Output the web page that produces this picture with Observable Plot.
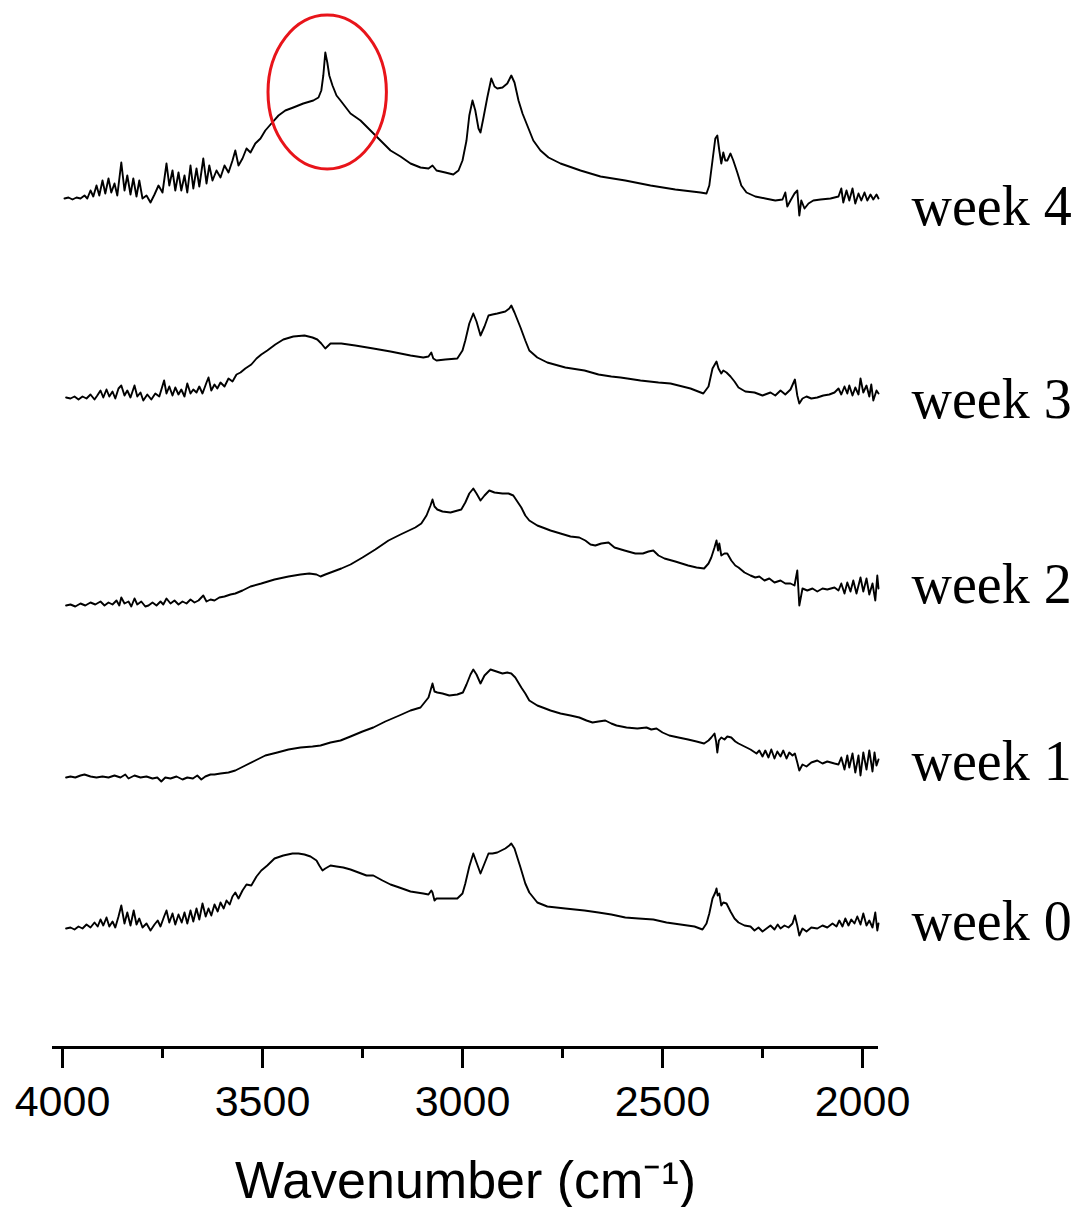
<!DOCTYPE html>
<html><head><meta charset="utf-8">
<script src="https://cdn.jsdelivr.net/npm/d3@7"></script>
<script src="https://cdn.jsdelivr.net/npm/@observablehq/plot@0.6"></script>
<style>html,body{margin:0;padding:0;background:#fff}</style>
</head><body><div id="chart"></div>
<script>
// ---- data (wavenumber cm-1, relative absorbance) ----
const weeks = ["week 0", "week 1", "week 2", "week 3", "week 4"];
const offsets = [1.19, 2.70, 4.42, 6.49, 8.49];   // vertical stacking offset of each spectrum
const labelY = [1.25, 2.85, 4.62, 6.47, 8.40];    // label positions (same units)
const majorTicks = [4000, 3500, 3000, 2500, 2000];
const minorTicks = [3750, 3250, 2750, 2250];
const highlight = [{wn: 3337, y: 9.55, rx: 148, ry: 0.77}]; // red ellipse around 3343 cm-1 band

const week0 = [[3991,.00],[3980,.01],[3970,-.01],[3960,.02],[3950,.00],[3940,.04],[3930,.01],[3920,.06],[3912,.02],[3905,.09],[3898,.03],[3890,.11],[3883,.02],[3875,.07],[3868,.01],[3860,.12],[3853,.23],[3845,.05],[3838,.16],[3830,.03],[3822,.18],[3815,.04],[3808,.10],[3800,.01],[3790,.05],[3780,-.02],[3770,.04],[3762,.08],[3755,.02],[3746,.12],[3740,.18],[3733,.06],[3725,.15],[3718,.04],[3710,.14],[3702,.06],[3695,.16],[3688,.05],[3680,.18],[3673,.07],[3665,.20],[3658,.09],[3650,.25],[3642,.12],[3635,.20],[3628,.13],[3620,.24],[3612,.17],[3605,.26],[3597,.20],[3590,.28],[3582,.24],[3575,.32],[3568,.36],[3560,.30],[3550,.38],[3540,.44],[3528,.43],[3515,.52],[3503,.58],[3488,.63],[3470,.70],[3448,.73],[3425,.75],[3410,.75],[3395,.74],[3380,.72],[3365,.68],[3358,.63],[3350,.58],[3343,.60],[3330,.63],[3315,.62],[3298,.61],[3280,.59],[3260,.56],[3240,.53],[3223,.53],[3200,.48],[3180,.44],[3158,.41],[3130,.37],[3098,.35],[3085,.34],[3078,.38],[3075,.36],[3070,.28],[3065,.30],[3043,.30],[3013,.30],[3000,.35],[2993,.45],[2983,.62],[2973,.75],[2965,.66],[2955,.55],[2945,.65],[2935,.75],[2925,.75],[2913,.76],[2893,.80],[2883,.83],[2878,.85],[2870,.80],[2855,.61],[2843,.45],[2833,.36],[2813,.26],[2788,.22],[2743,.20],[2695,.18],[2660,.16],[2628,.14],[2593,.11],[2560,.10],[2523,.09],[2490,.06],[2455,.04],[2420,.02],[2400,-.01],[2390,.05],[2383,.15],[2375,.30],[2368,.36],[2365,.40],[2362,.33],[2358,.35],[2353,.23],[2348,.26],[2340,.25],[2330,.17],[2320,.10],[2310,.06],[2295,.03],[2280,.02],[2270,-.02],[2260,.01],[2250,-.03],[2240,.00],[2230,.03],[2220,-.01],[2212,.04],[2205,.00],[2195,.03],[2185,.01],[2175,.05],[2169,.13],[2163,.03],[2158,-.07],[2150,.00],[2140,-.03],[2128,.01],[2113,.00],[2100,.03],[2088,.01],[2075,.05],[2065,.02],[2058,.08],[2050,.02],[2043,.10],[2035,.03],[2028,.09],[2020,.05],[2013,.12],[2005,.04],[1998,.15],[1990,.03],[1983,.08],[1975,.01],[1968,.16],[1963,-.02],[1960,.05]];

const week1 = [[3991,.00],[3980,.01],[3968,.00],[3955,.02],[3945,.03],[3930,.01],[3915,.00],[3900,.01],[3885,.00],[3870,.02],[3855,.00],[3843,.03],[3835,-.01],[3820,.02],[3805,.00],[3790,.01],[3775,-.01],[3763,.00],[3753,-.04],[3743,.00],[3730,-.01],[3715,.01],[3700,-.02],[3688,.00],[3674,-.01],[3663,.02],[3653,-.02],[3643,.01],[3630,.03],[3620,.03],[3605,.04],[3585,.05],[3568,.07],[3543,.12],[3518,.17],[3493,.22],[3463,.25],[3435,.28],[3405,.30],[3375,.31],[3355,.32],[3330,.35],[3305,.37],[3280,.41],[3250,.46],[3223,.50],[3193,.56],[3158,.62],[3130,.67],[3105,.70],[3095,.75],[3085,.80],[3080,.87],[3075,.94],[3070,.86],[3063,.85],[3050,.84],[3033,.82],[3013,.83],[2999,.85],[2990,.93],[2980,1.03],[2973,1.08],[2965,1.03],[2955,.94],[2945,1.02],[2930,1.08],[2915,1.06],[2900,1.04],[2888,1.05],[2878,1.04],[2868,1.00],[2853,.90],[2843,.84],[2833,.77],[2813,.72],[2793,.69],[2780,.67],[2755,.64],[2730,.62],[2708,.60],[2690,.57],[2675,.55],[2660,.56],[2643,.57],[2628,.54],[2615,.52],[2590,.50],[2563,.49],[2540,.50],[2528,.48],[2515,.49],[2500,.45],[2483,.42],[2460,.40],[2436,.38],[2415,.36],[2396,.34],[2385,.37],[2378,.40],[2370,.44],[2366,.36],[2363,.25],[2359,.37],[2353,.40],[2345,.38],[2338,.41],[2328,.40],[2318,.36],[2310,.34],[2295,.31],[2280,.28],[2265,.24],[2258,.27],[2250,.21],[2243,.27],[2235,.20],[2228,.28],[2220,.19],[2213,.26],[2205,.21],[2198,.27],[2190,.19],[2183,.25],[2175,.22],[2169,.24],[2163,.15],[2158,.07],[2150,.13],[2140,.11],[2128,.15],[2113,.17],[2100,.14],[2088,.16],[2070,.14],[2060,.13],[2053,.20],[2045,.08],[2038,.22],[2033,.10],[2025,.24],[2018,.05],[2010,.22],[2005,.02],[1998,.25],[1990,.08],[1983,.27],[1975,.06],[1970,.25],[1965,.12],[1960,.18]];

const week2 = [[3991,.00],[3980,.01],[3968,-.01],[3955,.02],[3943,.00],[3930,.03],[3918,.01],[3905,.04],[3895,.00],[3885,.03],[3875,.01],[3865,.05],[3858,.00],[3853,.08],[3845,.02],[3835,.04],[3828,-.01],[3820,.07],[3813,.01],[3803,.04],[3793,-.01],[3785,.00],[3775,.03],[3765,.00],[3755,.04],[3748,.01],[3740,.07],[3730,.02],[3720,.05],[3710,.01],[3700,.04],[3690,.02],[3680,.06],[3670,.03],[3660,.05],[3648,.10],[3640,.04],[3630,.06],[3620,.05],[3608,.08],[3595,.09],[3580,.11],[3568,.12],[3550,.15],[3530,.19],[3503,.22],[3470,.26],[3435,.29],[3405,.31],[3383,.32],[3365,.31],[3355,.29],[3343,.31],[3323,.34],[3303,.37],[3280,.41],[3250,.48],[3218,.56],[3185,.65],[3155,.71],[3118,.78],[3103,.82],[3090,.90],[3080,1.00],[3075,1.06],[3070,.99],[3063,.96],[3050,.94],[3030,.93],[3003,.96],[2993,1.03],[2983,1.12],[2973,1.17],[2965,1.12],[2955,1.05],[2945,1.10],[2933,1.15],[2920,1.13],[2900,1.12],[2885,1.12],[2873,1.10],[2863,1.04],[2853,.98],[2843,.90],[2833,.85],[2813,.80],[2793,.77],[2780,.75],[2755,.72],[2730,.69],[2708,.68],[2693,.65],[2680,.61],[2668,.60],[2653,.62],[2635,.63],[2620,.58],[2595,.55],[2568,.52],[2549,.52],[2535,.54],[2523,.55],[2510,.50],[2495,.47],[2468,.44],[2436,.40],[2415,.38],[2396,.37],[2385,.42],[2378,.48],[2370,.58],[2365,.65],[2361,.55],[2358,.62],[2353,.50],[2345,.52],[2338,.52],[2328,.45],[2318,.40],[2310,.38],[2295,.33],[2280,.30],[2268,.28],[2258,.29],[2245,.25],[2233,.27],[2220,.23],[2205,.25],[2193,.22],[2180,.22],[2170,.20],[2163,.35],[2158,.00],[2150,.17],[2138,.15],[2125,.17],[2113,.14],[2100,.17],[2088,.16],[2070,.18],[2060,.15],[2053,.22],[2045,.12],[2038,.23],[2030,.14],[2023,.25],[2015,.12],[2005,.28],[1998,.14],[1990,.27],[1983,.11],[1975,.22],[1968,.05],[1963,.30],[1960,.17]];

const week3 = [[3991,.01],[3980,.00],[3970,.02],[3960,-.01],[3950,.02],[3940,.00],[3930,.04],[3920,-.01],[3913,.03],[3905,.08],[3898,.01],[3890,.09],[3883,.02],[3875,.07],[3868,.00],[3860,.10],[3853,.13],[3845,.03],[3838,.08],[3830,.01],[3820,.13],[3813,.02],[3805,.06],[3798,-.02],[3788,.04],[3778,-.01],[3768,.05],[3758,.02],[3746,.18],[3740,.05],[3733,.12],[3725,.03],[3718,.11],[3710,.04],[3703,.09],[3695,.02],[3688,.15],[3680,.05],[3673,.09],[3665,.06],[3658,.12],[3650,.05],[3640,.16],[3635,.21],[3628,.08],[3620,.14],[3613,.10],[3605,.16],[3595,.12],[3585,.20],[3575,.17],[3565,.24],[3555,.26],[3543,.30],[3528,.34],[3515,.40],[3503,.44],[3488,.48],[3468,.54],[3448,.59],[3423,.62],[3395,.63],[3375,.61],[3363,.59],[3353,.55],[3343,.50],[3330,.55],[3303,.55],[3268,.53],[3223,.50],[3180,.47],[3130,.43],[3098,.41],[3085,.42],[3078,.46],[3073,.40],[3065,.38],[3043,.39],[3013,.40],[3000,.48],[2993,.58],[2983,.75],[2973,.85],[2965,.77],[2955,.63],[2945,.72],[2935,.83],[2925,.84],[2913,.85],[2893,.87],[2883,.90],[2878,.93],[2870,.86],[2855,.71],[2843,.58],[2833,.48],[2813,.41],[2788,.36],[2743,.31],[2695,.28],[2660,.24],[2628,.22],[2605,.21],[2588,.20],[2555,.18],[2510,.16],[2480,.15],[2430,.10],[2398,.05],[2385,.12],[2375,.30],[2365,.37],[2360,.30],[2353,.25],[2348,.28],[2340,.26],[2330,.22],[2320,.17],[2310,.11],[2293,.07],[2270,.06],[2250,.03],[2230,.06],[2218,.03],[2205,.08],[2193,.04],[2180,.09],[2169,.19],[2163,.03],[2158,-.05],[2150,.00],[2140,.02],[2128,.00],[2113,.01],[2098,.03],[2083,.04],[2070,.06],[2060,.10],[2053,.04],[2045,.12],[2038,.05],[2033,.13],[2025,.03],[2018,.11],[2010,.04],[2005,.20],[1998,.06],[1990,.13],[1983,.02],[1978,.14],[1973,-.02],[1965,.08],[1960,.05]];

const week4 = [[3995,0],[3985,.01],[3975,-.01],[3965,.01],[3955,0],[3945,.03],[3938,0],[3930,.08],[3923,.02],[3915,.13],[3908,.03],[3900,.18],[3893,.05],[3885,.20],[3878,.06],[3870,.15],[3863,.03],[3853,.36],[3845,.08],[3838,.23],[3830,.04],[3823,.20],[3815,.02],[3808,.18],[3800,0],[3790,.03],[3780,-.04],[3770,.04],[3760,.13],[3750,.06],[3740,.35],[3733,.13],[3725,.28],[3718,.08],[3710,.26],[3703,.08],[3695,.23],[3688,.06],[3680,.33],[3673,.10],[3665,.30],[3658,.12],[3648,.40],[3640,.15],[3633,.33],[3625,.18],[3615,.28],[3605,.21],[3595,.33],[3585,.26],[3575,.38],[3568,.48],[3560,.33],[3550,.40],[3540,.50],[3530,.46],[3518,.55],[3505,.60],[3493,.68],[3480,.74],[3460,.83],[3443,.88],[3423,.91],[3398,.95],[3373,.98],[3360,1.01],[3353,1.08],[3348,1.23],[3343,1.46],[3338,1.36],[3333,1.23],[3325,1.13],[3315,1.03],[3305,.98],[3280,.85],[3255,.78],[3230,.68],[3205,.58],[3180,.48],[3155,.42],[3130,.35],[3105,.31],[3085,.30],[3075,.33],[3065,.28],[3043,.26],[3023,.24],[3010,.28],[3000,.38],[2990,.58],[2983,.83],[2975,.98],[2968,.88],[2960,.70],[2955,.66],[2948,.80],[2938,1.01],[2928,1.20],[2920,1.12],[2913,1.10],[2900,1.11],[2888,1.15],[2878,1.23],[2870,1.16],[2860,.98],[2850,.85],[2838,.73],[2823,.58],[2805,.48],[2785,.41],[2755,.35],[2705,.28],[2655,.22],[2593,.18],[2530,.13],[2468,.09],[2405,.06],[2390,.05],[2383,.13],[2375,.38],[2368,.60],[2363,.63],[2358,.48],[2353,.35],[2348,.46],[2343,.38],[2338,.38],[2330,.45],[2323,.38],[2313,.26],[2303,.13],[2290,.06],[2268,.02],[2243,0],[2218,-.02],[2200,-.01],[2193,.06],[2188,-.08],[2180,-.02],[2170,.05],[2163,.08],[2158,-.17],[2153,-.02],[2145,-.10],[2135,-.05],[2123,-.02],[2105,-.01],[2080,0],[2060,.02],[2053,.10],[2048,-.04],[2040,.08],[2033,-.02],[2025,.10],[2018,-.05],[2010,.05],[2003,-.02],[1995,.06],[1988,-.02],[1980,.04],[1973,-.01],[1965,.04],[1960,0]];

const spectra = [week0, week1, week2, week3, week4];
const rows = spectra.flatMap((s, i) => s.map(([wn, a]) => ({week: weeks[i], wn, y: a + offsets[i]})));

const plot = Plot.plot({
  width: 1078, height: 1207,
  marginTop: 0, marginBottom: 160, marginLeft: 52, marginRight: 200,
  x: {domain: [4025, 1960], label: null},
  y: {domain: [0, 10.47], axis: null},
  style: {fontFamily: "'Liberation Sans', Arial, sans-serif", background: "white", color: "black", overflow: "visible"},
  marks: [
    Plot.line(rows, {x: "wn", y: "y", z: "week", stroke: "black", strokeWidth: 1.9, strokeLinejoin: "round"}),
    Plot.ruleY([0], {stroke: "black", strokeWidth: 3}),
    Plot.axisX(majorTicks, {anchor: "bottom", tickSize: 21, tickPadding: 17, strokeWidth: 3, fontSize: 43, tickFormat: d => String(d), label: null}),
    Plot.axisX(minorTicks, {anchor: "bottom", tickSize: 11, strokeWidth: 3, tickFormat: () => "", label: null}),
    Plot.text(["Wavenumber (cm⁻¹)"], {frameAnchor: "bottom", dy: 134, fontSize: 52, lineAnchor: "middle", fill: "black"}),
    Plot.text(weeks, {y: labelY, frameAnchor: "right", dx: 33, textAnchor: "start", lineAnchor: "middle", fontSize: 56, fontFamily: "'Liberation Serif', 'Times New Roman', serif", fill: "black"})
  ]
});

// red ellipse annotation, positioned with the plot's scales
const sx = plot.scale("x"), sy = plot.scale("y");
const g = d3.select(plot).append("g");
for (const h of highlight) {
  const cx = sx.apply(h.wn), cy = sy.apply(h.y);
  g.append("ellipse")
    .attr("cx", cx).attr("cy", cy)
    .attr("rx", Math.abs(sx.apply(h.wn - h.rx) - cx))
    .attr("ry", Math.abs(sy.apply(h.y + h.ry) - cy))
    .attr("fill", "none").attr("stroke", "#e8141a").attr("stroke-width", 3);
}
document.getElementById("chart").append(plot);
</script>
</body></html>
